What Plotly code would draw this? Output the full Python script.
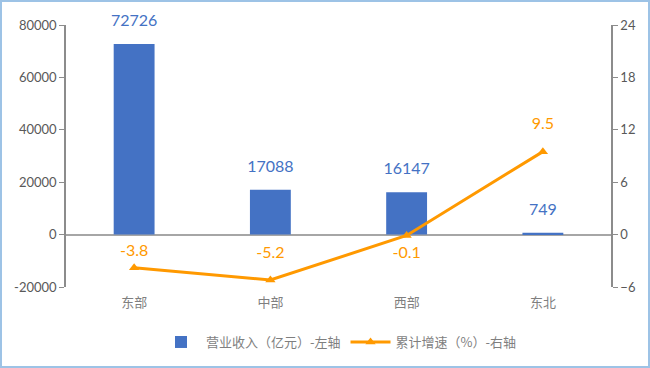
import plotly.graph_objects as go

categories = ["东部", "中部", "西部", "东北"]
revenue = [72726, 17088, 16147, 749]
growth = [-3.8, -5.2, -0.1, 9.5]
growth_label_pos = ["top center", "top center", "bottom center", "top center"]
growth_label_gap = [11, 27, 15, 29]
left_ticks = [-20000, 0, 20000, 40000, 60000, 80000]
right_ticks = [-6, 0, 6, 12, 18, 24]

blue = "#4472C4"
orange = "#FF9900"
cjk = "Noto Sans CJK SC"
num_font = "Lato, Noto Sans CJK SC"

fig = go.Figure()
fig.add_trace(go.Bar(
    x=categories, y=revenue, name="营业收入（亿元）-左轴",
    marker=dict(color=blue, line=dict(width=0)),
    width=0.3,
))
# bar value labels
fig.add_trace(go.Scatter(
    x=categories, y=revenue, mode="markers+text", showlegend=False, hoverinfo="skip",
    marker=dict(size=21, opacity=0),
    text=[str(v) for v in revenue], textposition="top center",
    textfont=dict(color=blue, size=16, family=num_font),
    cliponaxis=False,
))
fig.add_trace(go.Scatter(
    x=categories, y=growth, name="累计增速（%）-右轴", yaxis="y2",
    mode="lines+markers",
    line=dict(color=orange, width=3),
    marker=dict(symbol="triangle-up", size=9, color=orange),
    cliponaxis=False,
))
# line value labels
fig.add_trace(go.Scatter(
    x=categories, y=growth, yaxis="y2", mode="markers+text", showlegend=False, hoverinfo="skip",
    marker=dict(size=growth_label_gap, opacity=0),
    text=[f"{v}" for v in growth], textposition=growth_label_pos,
    textfont=dict(color=orange, size=16, family=num_font),
    cliponaxis=False,
))

fig.update_layout(
    width=650, height=368,
    margin=dict(l=66, r=39, t=25, b=81, autoexpand=False),
    paper_bgcolor="white", plot_bgcolor="white",
    showlegend=True,
    legend=dict(orientation="h", x=0.5, xanchor="center", y=-0.21, yanchor="middle",
                font=dict(family=cjk, size=13, color="#7f7f7f"),
                itemwidth=40, tracegroupgap=0, bgcolor="rgba(0,0,0,0)"),
    xaxis=dict(showgrid=False, showline=False, zeroline=False, ticks="",
               ticklabelstandoff=6,
               tickfont=dict(family=cjk, size=13, color="#7f7f7f")),
    yaxis=dict(range=[-20000, 80000], tickvals=left_ticks, ticktext=[str(v) for v in left_ticks],
               showgrid=False, zeroline=True, zerolinecolor="#a6a6a6", zerolinewidth=1.5,
               showline=True, linecolor="#8c8c8c", linewidth=1.5,
               ticks="outside", ticklen=5, tickcolor="#8c8c8c",
               tickfont=dict(family=num_font, size=13, color="#595959")),
    yaxis2=dict(range=[-6, 24], tickvals=right_ticks, overlaying="y", side="right",
                showgrid=False, zeroline=False,
                showline=True, linecolor="#8c8c8c", linewidth=1.5,
                ticks="outside", ticklen=5, tickcolor="#8c8c8c",
                tickfont=dict(family=num_font, size=13, color="#595959")),
    shapes=[dict(type="rect", xref="paper", yref="paper", x0=-65/545, x1=1+38/545,
                 y0=-80/262, y1=1+24/262, line=dict(color="#9DC3E6", width=2), layer="below")],
)
fig.write_html("out.html", config={"displayModeBar": False},
               post_script="document.body.style.margin='0';document.body.style.overflow='hidden';")
